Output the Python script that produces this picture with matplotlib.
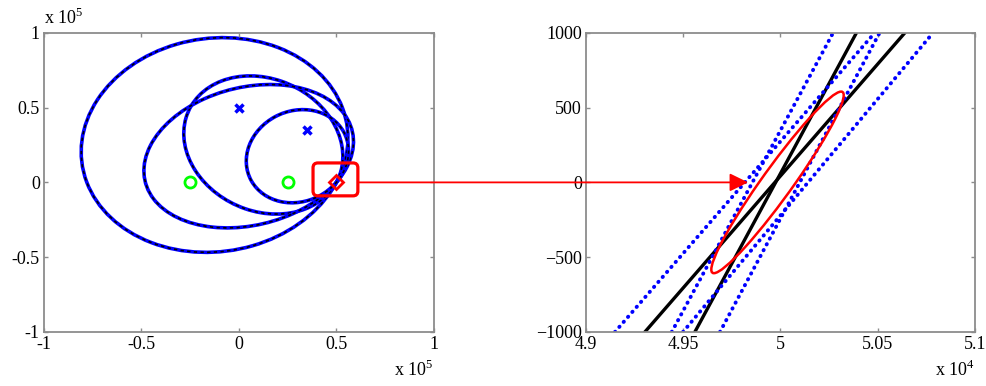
import matplotlib
matplotlib.use("Agg")
import matplotlib.pyplot as plt
from matplotlib.patches import Ellipse, Circle, FancyBboxPatch, ConnectionPatch
from matplotlib.transforms import Affine2D

plt.rcParams['font.family'] = 'Liberation Serif'
plt.rcParams['mathtext.fontset'] = 'custom'
plt.rcParams['mathtext.rm'] = 'Liberation Serif'

# left panel: transmitters, receivers, target (metres)
tx_x = [0, 35000]
tx_y = [50000, 35000]
rx_x = [-25000, 25000]
rx_y = [0, 0]
target_x = [50000]
target_y = [0]

# bistatic range ellipses: centre, full width, full height, angle (deg)
ell_cx = [-12500, 12500, 5000, 30000]
ell_cy = [25000, 25000, 17500, 17500]
ell_w = [145711, 95711, 113079, 63079]
ell_h = [134562, 77688, 89232, 51518]
ell_ang = [63.43, 116.57, 30.26, 74.05]

# right panel: lines near the target, x at y=-1000 and y=1000
line_y = [-1000, 1000]
black_x0 = [49560, 49303]
black_x1 = [50391, 50640]
blue_x0 = [49441, 49689, 49149, 49499]
blue_x1 = [50271, 50510, 50485, 50785]

# error ellipse: centre and conjugate semi-diameters
err_c = (49985, 0)
err_a = (327, 607)
err_b = (95, 0)

left_ticks = [-1, -0.5, 0, 0.5, 1]
right_xticks = [4.9, 4.95, 5, 5.05, 5.1]
right_yticks = [-1000, -500, 0, 500, 1000]

gray = '#8c8c8c'
dots = (0, (0.1, 1.6))

fig = plt.figure(figsize=(9.87, 3.86), dpi=100)
ax1 = fig.add_axes([0.0446, 0.140, 0.395, 0.775])
ax2 = fig.add_axes([0.5937, 0.140, 0.394, 0.775])


def style(ax):
    for s in ax.spines.values():
        s.set_color(gray)
        s.set_linewidth(1.3)
    ax.tick_params(direction='in', length=3, width=1, color=gray,
                   top=True, right=True, labelsize=13, pad=3)


for cx, cy, w, h, a in zip(ell_cx, ell_cy, ell_w, ell_h, ell_ang):
    ax1.add_patch(Ellipse((cx, cy), w, h, angle=a, fill=False,
                          edgecolor='#0000ff', lw=2.6))
    ax1.add_patch(Ellipse((cx, cy), w, h, angle=a, fill=False,
                          edgecolor='black', lw=1.2, linestyle=(0, (2.0, 2.0))))

ax1.plot(tx_x, tx_y, 'x', color='#0000ff', ms=6, mew=2.5)
ax1.plot(rx_x, rx_y, 'o', mfc='none', mec='#00ff00', ms=8, mew=2)
ax1.plot(target_x, target_y, 'D', mfc='none', mec='#ff0000', ms=7, mew=2)

box = FancyBboxPatch((38000, -9000), 23000, 22000,
                     boxstyle='round,pad=0,rounding_size=2500',
                     mutation_aspect=1.3, fill=False, edgecolor='#ff0000',
                     lw=2.3, zorder=5)
ax1.add_patch(box)

ax1.set_xlim(-1e5, 1e5)
ax1.set_ylim(-1e5, 1e5)
ax1.set_xticks([t * 1e5 for t in left_ticks])
ax1.set_xticklabels([f'{t:g}' for t in left_ticks])
ax1.set_yticks([t * 1e5 for t in left_ticks])
ax1.set_yticklabels([f'{t:g}' for t in left_ticks])
style(ax1)
ax1.text(0.0, 1.015, r'x 10$^{5}$', transform=ax1.transAxes,
         ha='left', va='bottom', fontsize=13)
ax1.text(1.0, -0.095, r'x 10$^{5}$', transform=ax1.transAxes,
         ha='right', va='top', fontsize=13)

for x0, x1 in zip(black_x0, black_x1):
    ax2.plot([x0, x1], line_y, color='black', lw=2.4)
for x0, x1 in zip(blue_x0, blue_x1):
    ax2.plot([x0, x1], line_y, color='#0000ff', lw=2.8, linestyle=dots,
             dash_capstyle='round')

m = Affine2D.from_values(err_a[0], err_a[1], err_b[0], err_b[1], err_c[0], err_c[1])
ax2.add_patch(Circle((0, 0), 1, fill=False, edgecolor='#ff0000', lw=1.8,
                     transform=m + ax2.transData, zorder=5))

ax2.set_xlim(49000, 51000)
ax2.set_ylim(-1000, 1000)
ax2.set_xticks([t * 1e4 for t in right_xticks])
ax2.set_xticklabels([f'{t:g}' for t in right_xticks])
ax2.set_yticks(right_yticks)
style(ax2)
ax2.text(1.0, -0.095, r'x 10$^{4}$', transform=ax2.transAxes,
         ha='right', va='top', fontsize=13)

arrow = ConnectionPatch(xyA=(61000, 0), coordsA=ax1.transData,
                        xyB=(49834, 0), coordsB=ax2.transData,
                        arrowstyle='-|>,head_length=0.45,head_width=0.22',
                        mutation_scale=25, color='#ff0000', lw=1.3,
                        shrinkA=0, shrinkB=0, zorder=10)
fig.add_artist(arrow)

plt.savefig('out.png', dpi=100)
